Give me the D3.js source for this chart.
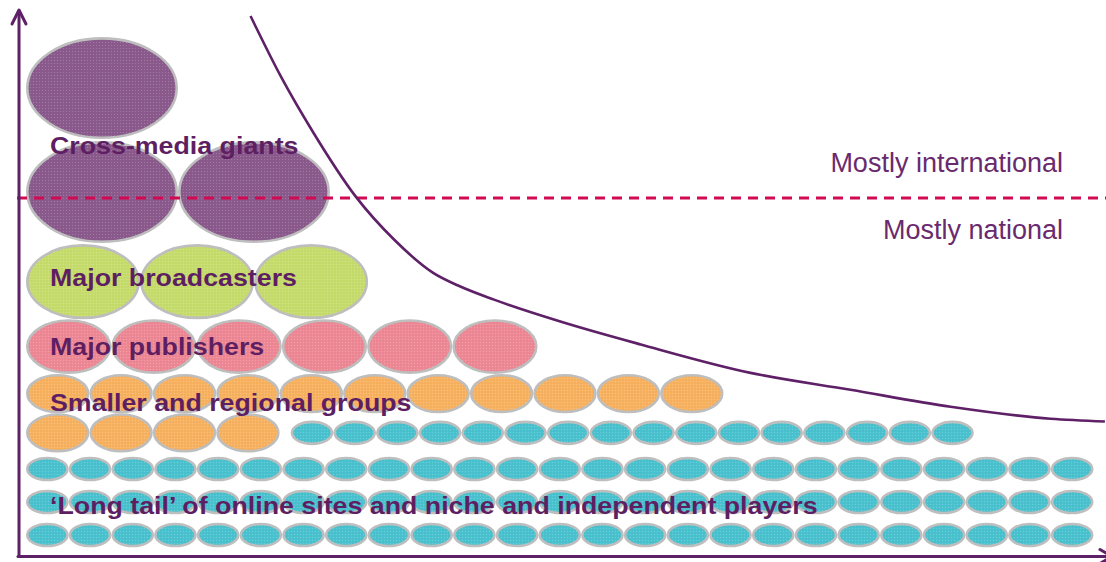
<!DOCTYPE html>
<html>
<head>
<meta charset="utf-8">
<script src="https://cdn.jsdelivr.net/npm/d3@7"></script>
<style>
  html, body { margin: 0; padding: 0; background: #fff; }
  svg { display: block; }
</style>
</head>
<body>
<svg id="chart" width="1106" height="562"></svg>
<script>
// Media market structure: players stacked by size tier, with the reach curve

// Size tiers of the market
const categories = [
  "Cross-media giants",
  "Major broadcasters",
  "Major publishers",
  "Smaller and regional groups",
  "\u2018Long tail\u2019 of online sites and niche and independent players"
];
// Relative scale of a single player in each tier (0-100)
const tierScale = [100, 67, 42, 23, 5];
// Rows of players, top to bottom: [tier index, number of players]
const playerRows = [
  [[0, 1]],
  [[0, 2]],
  [[1, 3]],
  [[2, 6]],
  [[3, 11]],
  [[3, 4], [4, 16]],
  [[4, 25]],
  [[4, 25]],
  [[4, 25]]
];
// Row on which each tier's name is written
const labelRow = [1, 2, 3, 4, 7];

// Reach curve: number of players (x, 0-100) against reach (y, 0-100)
const curveX = [21.3, 24.1, 27.1, 31.0, 34.5, 38.1, 40.6, 43.7, 49.8, 57.2, 67.3, 76.5, 85.7, 94.9, 99.9];
const curveY = [98.9, 87.8, 77.5, 65.8, 58.0, 51.9, 49.4, 47.0, 43.0, 38.8, 33.6, 30.5, 27.4, 25.2, 24.7];
// Boundary between international and national reach
const reachThreshold = 65.6;
const zoneLabels = ["Mostly international", "Mostly national"];

// ---- styling / layout ----
const W = 1106, H = 562;
const tierFill = ["#8b5a8d", "#c6dc6c", "#ee8895", "#f8b260", "#4bc2cf"];
const tierPad = [1, 0, 0, 0, 4.2];
const labelDy = [-38, 4.5, 8, 17, 12];
const purple = "#5e2066";
const outline = "#bebebe";
const strokeW = 2.6;
const rowLeft = 26, segGap = 11, rowBottom = 551.5;

const svg = d3.select("#chart");

const x = d3.scaleLinear().domain([0, 100]).range([19, W]);
const y = d3.scaleLinear().domain([0, 100]).range([556.5, 10]);
const wScale = d3.scaleLinear().domain([5, 100]).range([42.7, 152]);
const hScale = d3.scaleLinear().domain([5, 100]).range([24.6, 102]);

// Fine woven texture laid over the ellipses
const defs = svg.append("defs");
const pat = defs.append("pattern")
  .attr("id", "weave").attr("patternUnits", "userSpaceOnUse")
  .attr("width", 3).attr("height", 3);
pat.append("rect").attr("width", 1).attr("height", 1).attr("fill", "#fff").attr("opacity", 0.18);
pat.append("rect").attr("x", 1.5).attr("y", 1.5).attr("width", 1).attr("height", 1).attr("fill", "#000").attr("opacity", 0.06);

// Stack rows from the bottom up
const rowCenter = new Array(playerRows.length);
let cursor = rowBottom;
for (let r = playerRows.length - 1; r >= 0; r--) {
  const rh = d3.max(playerRows[r], ([t]) => hScale(tierScale[t]) + 2 * tierPad[t]);
  rowCenter[r] = cursor - rh / 2;
  cursor -= rh;
}

// One record per player
const players = [];
playerRows.forEach((segs, r) => {
  let xc = rowLeft;
  segs.forEach(([t, n]) => {
    const w = wScale(tierScale[t]);
    const h = hScale(tierScale[t]);
    for (let i = 0; i < n; i++) {
      players.push({ tier: t, cx: xc + w * (i + 0.5), cy: rowCenter[r], rx: w / 2 - strokeW / 2, ry: h / 2 - strokeW / 2 });
    }
    xc += n * w + segGap;
  });
});

const gPlayers = svg.append("g");
gPlayers.selectAll("ellipse.player").data(players).join("ellipse")
  .attr("class", "player")
  .attr("cx", d => d.cx).attr("cy", d => d.cy)
  .attr("rx", d => d.rx).attr("ry", d => d.ry)
  .attr("fill", d => tierFill[d.tier])
  .attr("stroke", outline).attr("stroke-width", strokeW);
gPlayers.selectAll("ellipse.tex").data(players).join("ellipse")
  .attr("class", "tex")
  .attr("cx", d => d.cx).attr("cy", d => d.cy)
  .attr("rx", d => d.rx - 1).attr("ry", d => d.ry - 1)
  .attr("fill", "url(#weave)");

// International / national divider
svg.append("line")
  .attr("x1", x(0) - 2).attr("x2", W)
  .attr("y1", y(reachThreshold)).attr("y2", y(reachThreshold))
  .attr("stroke", "#d20a52").attr("stroke-width", 3)
  .attr("stroke-dasharray", "10,7");

svg.append("text")
  .attr("x", 1063).attr("y", y(reachThreshold) - 26)
  .attr("text-anchor", "end")
  .attr("font-family", "'Liberation Sans', Arial, sans-serif")
  .attr("font-size", 27).attr("fill", "#6a2a6e")
  .text(zoneLabels[0]);
svg.append("text")
  .attr("x", 1063).attr("y", y(reachThreshold) + 41)
  .attr("text-anchor", "end")
  .attr("font-family", "'Liberation Sans', Arial, sans-serif")
  .attr("font-size", 27).attr("fill", "#6a2a6e")
  .text(zoneLabels[1]);

// Reach curve
const curvePts = curveX.map((v, i) => [v, curveY[i]]);
svg.append("path")
  .attr("d", d3.line().x(d => x(d[0])).y(d => y(d[1])).curve(d3.curveMonotoneX)(curvePts))
  .attr("fill", "none").attr("stroke", purple).attr("stroke-width", 2.6);

// Tier names (set slightly wide)
svg.append("g").selectAll("text").data(categories).join("text")
  .attr("transform", (d, i) => `translate(50,${rowCenter[labelRow[i]] + labelDy[i]}) scale(1.093,1)`)
  .attr("font-family", "'Liberation Sans', Arial, sans-serif")
  .attr("font-weight", "bold").attr("font-size", 24.5)
  .attr("fill", "#5e1f62")
  .text(d => d);

// Axes with open arrowheads
const axes = svg.append("g").attr("fill", "none").attr("stroke", purple)
  .attr("stroke-width", 3).attr("stroke-linecap", "round").attr("stroke-linejoin", "round");
axes.append("path").attr("d", d3.line()([[x(0), y(0)], [x(0), y(100) + 1]]));
axes.append("path").attr("d", d3.line()([[x(0) - 7, y(100) + 14], [x(0), y(100)], [x(0) + 7, y(100) + 14]]));
axes.append("path").attr("d", d3.line()([[x(0) - 1, y(0)], [W + 10, y(0)]]));
axes.append("path").attr("d", d3.line()([[W - 6, y(0) - 7], [W + 6, y(0)], [W - 6, y(0) + 7]]));
</script>
</body>
</html>
